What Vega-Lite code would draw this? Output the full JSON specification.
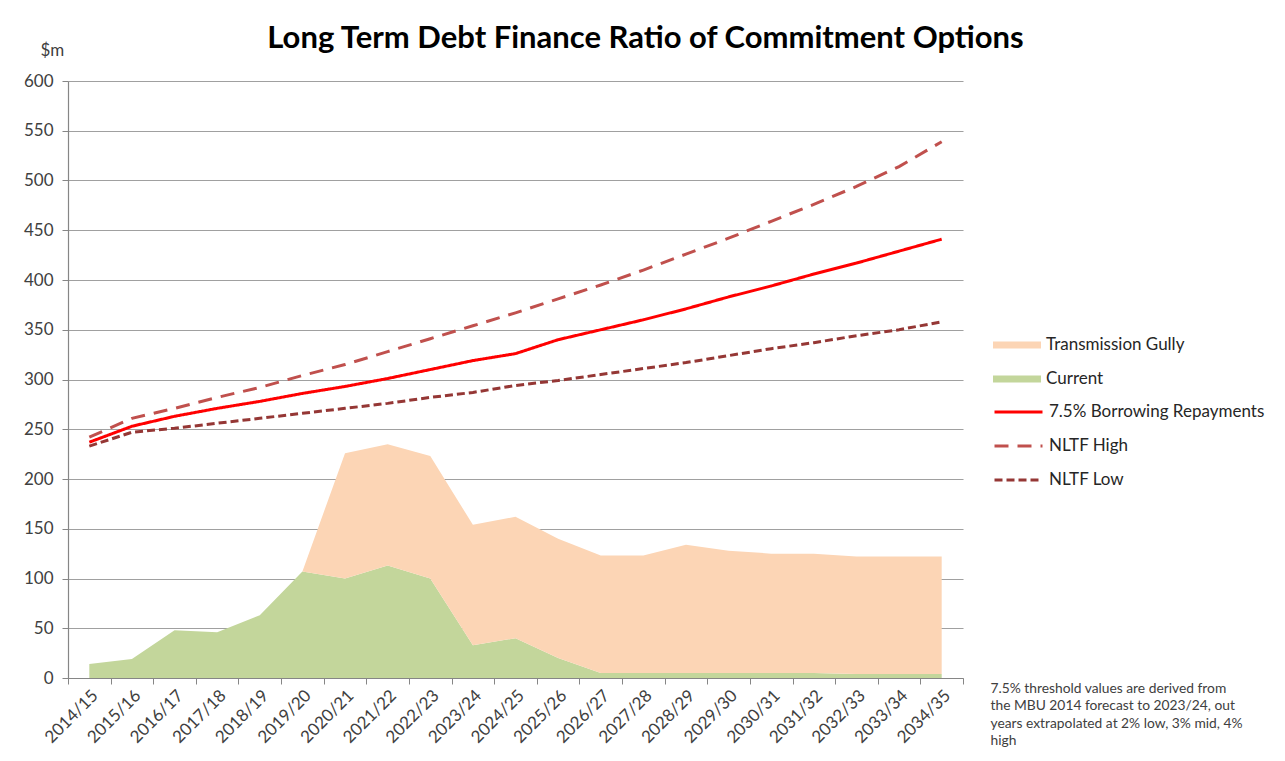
{
  "$schema": "https://vega.github.io/schema/vega-lite/v6.json",
  "width": 895,
  "height": 597,
  "autosize": {"type": "none"},
  "padding": {"left": 68, "top": 81, "right": 322, "bottom": 83},
  "background": "white",
  "title": {
    "text": "Long Term Debt Finance Ratio of Commitment Options",
    "font": "Lato",
    "fontSize": 31,
    "fontWeight": "bold",
    "color": "#000000",
    "anchor": "middle",
    "frame": "group",
    "dx": 130,
    "dy": 43,
    "offset": 29
  },
  "config": {
    "view": {"stroke": null},
    "font": "Lato",
    "axis": {"labelFont": "Lato", "titleFont": "Lato"},
    "legend": {"labelFont": "Lato"}
  },
  "data": {
    "values": [
      {"year": "2014/15", "series": "Current", "value": 14},
      {"year": "2015/16", "series": "Current", "value": 19},
      {"year": "2016/17", "series": "Current", "value": 48},
      {"year": "2017/18", "series": "Current", "value": 46},
      {"year": "2018/19", "series": "Current", "value": 63},
      {"year": "2019/20", "series": "Current", "value": 107},
      {"year": "2020/21", "series": "Current", "value": 100},
      {"year": "2021/22", "series": "Current", "value": 113},
      {"year": "2022/23", "series": "Current", "value": 100},
      {"year": "2023/24", "series": "Current", "value": 33},
      {"year": "2024/25", "series": "Current", "value": 40},
      {"year": "2025/26", "series": "Current", "value": 20},
      {"year": "2026/27", "series": "Current", "value": 5},
      {"year": "2027/28", "series": "Current", "value": 5},
      {"year": "2028/29", "series": "Current", "value": 5},
      {"year": "2029/30", "series": "Current", "value": 5},
      {"year": "2030/31", "series": "Current", "value": 5},
      {"year": "2031/32", "series": "Current", "value": 5},
      {"year": "2032/33", "series": "Current", "value": 4},
      {"year": "2033/34", "series": "Current", "value": 4},
      {"year": "2034/35", "series": "Current", "value": 4},
      {"year": "2019/20", "series": "Transmission Gully", "value": 0},
      {"year": "2020/21", "series": "Transmission Gully", "value": 126},
      {"year": "2021/22", "series": "Transmission Gully", "value": 122},
      {"year": "2022/23", "series": "Transmission Gully", "value": 123},
      {"year": "2023/24", "series": "Transmission Gully", "value": 121},
      {"year": "2024/25", "series": "Transmission Gully", "value": 122},
      {"year": "2025/26", "series": "Transmission Gully", "value": 120},
      {"year": "2026/27", "series": "Transmission Gully", "value": 118},
      {"year": "2027/28", "series": "Transmission Gully", "value": 118},
      {"year": "2028/29", "series": "Transmission Gully", "value": 129},
      {"year": "2029/30", "series": "Transmission Gully", "value": 123},
      {"year": "2030/31", "series": "Transmission Gully", "value": 120},
      {"year": "2031/32", "series": "Transmission Gully", "value": 120},
      {"year": "2032/33", "series": "Transmission Gully", "value": 118},
      {"year": "2033/34", "series": "Transmission Gully", "value": 118},
      {"year": "2034/35", "series": "Transmission Gully", "value": 118},
      {"year": "2014/15", "series": "7.5% Borrowing Repayments", "value": 237},
      {"year": "2015/16", "series": "7.5% Borrowing Repayments", "value": 253},
      {"year": "2016/17", "series": "7.5% Borrowing Repayments", "value": 263},
      {"year": "2017/18", "series": "7.5% Borrowing Repayments", "value": 271},
      {"year": "2018/19", "series": "7.5% Borrowing Repayments", "value": 278},
      {"year": "2019/20", "series": "7.5% Borrowing Repayments", "value": 286},
      {"year": "2020/21", "series": "7.5% Borrowing Repayments", "value": 293},
      {"year": "2021/22", "series": "7.5% Borrowing Repayments", "value": 301},
      {"year": "2022/23", "series": "7.5% Borrowing Repayments", "value": 310},
      {"year": "2023/24", "series": "7.5% Borrowing Repayments", "value": 319},
      {"year": "2024/25", "series": "7.5% Borrowing Repayments", "value": 326},
      {"year": "2025/26", "series": "7.5% Borrowing Repayments", "value": 340},
      {"year": "2026/27", "series": "7.5% Borrowing Repayments", "value": 350},
      {"year": "2027/28", "series": "7.5% Borrowing Repayments", "value": 360},
      {"year": "2028/29", "series": "7.5% Borrowing Repayments", "value": 371},
      {"year": "2029/30", "series": "7.5% Borrowing Repayments", "value": 383},
      {"year": "2030/31", "series": "7.5% Borrowing Repayments", "value": 394},
      {"year": "2031/32", "series": "7.5% Borrowing Repayments", "value": 406},
      {"year": "2032/33", "series": "7.5% Borrowing Repayments", "value": 417},
      {"year": "2033/34", "series": "7.5% Borrowing Repayments", "value": 429},
      {"year": "2034/35", "series": "7.5% Borrowing Repayments", "value": 441},
      {"year": "2014/15", "series": "NLTF High", "value": 242},
      {"year": "2015/16", "series": "NLTF High", "value": 261},
      {"year": "2016/17", "series": "NLTF High", "value": 271},
      {"year": "2017/18", "series": "NLTF High", "value": 282},
      {"year": "2018/19", "series": "NLTF High", "value": 292},
      {"year": "2019/20", "series": "NLTF High", "value": 304},
      {"year": "2020/21", "series": "NLTF High", "value": 315},
      {"year": "2021/22", "series": "NLTF High", "value": 328},
      {"year": "2022/23", "series": "NLTF High", "value": 341},
      {"year": "2023/24", "series": "NLTF High", "value": 354},
      {"year": "2024/25", "series": "NLTF High", "value": 367},
      {"year": "2025/26", "series": "NLTF High", "value": 381},
      {"year": "2026/27", "series": "NLTF High", "value": 395},
      {"year": "2027/28", "series": "NLTF High", "value": 410},
      {"year": "2028/29", "series": "NLTF High", "value": 426},
      {"year": "2029/30", "series": "NLTF High", "value": 442},
      {"year": "2030/31", "series": "NLTF High", "value": 459},
      {"year": "2031/32", "series": "NLTF High", "value": 476},
      {"year": "2032/33", "series": "NLTF High", "value": 494},
      {"year": "2033/34", "series": "NLTF High", "value": 514},
      {"year": "2034/35", "series": "NLTF High", "value": 539},
      {"year": "2014/15", "series": "NLTF Low", "value": 233},
      {"year": "2015/16", "series": "NLTF Low", "value": 247},
      {"year": "2016/17", "series": "NLTF Low", "value": 251},
      {"year": "2017/18", "series": "NLTF Low", "value": 256},
      {"year": "2018/19", "series": "NLTF Low", "value": 261},
      {"year": "2019/20", "series": "NLTF Low", "value": 266},
      {"year": "2020/21", "series": "NLTF Low", "value": 271},
      {"year": "2021/22", "series": "NLTF Low", "value": 276},
      {"year": "2022/23", "series": "NLTF Low", "value": 282},
      {"year": "2023/24", "series": "NLTF Low", "value": 287},
      {"year": "2024/25", "series": "NLTF Low", "value": 294},
      {"year": "2025/26", "series": "NLTF Low", "value": 299},
      {"year": "2026/27", "series": "NLTF Low", "value": 305},
      {"year": "2027/28", "series": "NLTF Low", "value": 311},
      {"year": "2028/29", "series": "NLTF Low", "value": 317},
      {"year": "2029/30", "series": "NLTF Low", "value": 324},
      {"year": "2030/31", "series": "NLTF Low", "value": 331},
      {"year": "2031/32", "series": "NLTF Low", "value": 337},
      {"year": "2032/33", "series": "NLTF Low", "value": 344},
      {"year": "2033/34", "series": "NLTF Low", "value": 350},
      {"year": "2034/35", "series": "NLTF Low", "value": 358}
    ]
  },
  "layer": [
    {
      "transform": [{"filter": {"field": "series", "oneOf": ["Current", "Transmission Gully"]}}],
      "mark": {"type": "area", "opacity": 1},
      "encoding": {
        "x": {
          "field": "year",
          "type": "ordinal",
          "scale": {"paddingInner": 0, "paddingOuter": 0},
          "axis": {
            "title": ["7.5% threshold values are derived from", "the MBU 2014  forecast to 2023/24, out", "years extrapolated at 2% low, 3% mid, 4%", "high"],
            "titleX": 922,
            "titleY": 3,
            "titleAlign": "left",
            "titleAngle": 0,
            "titleBaseline": "top",
            "titleFontSize": 13.8,
            "titleFontWeight": "normal",
            "titleLineHeight": 17.5,
            "titleColor": "#404040",
            "labelAngle": -45,
            "labelFontSize": 17,
            "labelColor": "#404040",
            "labelPadding": 3,
            "tickBand": "extent",
            "tickSize": 6,
            "tickColor": "#868686",
            "domainColor": "#868686",
            "domainWidth": 1.2,
            "grid": false
          }
        },
        "y": {
          "field": "value",
          "type": "quantitative",
          "stack": "zero",
          "scale": {"domain": [0, 600], "nice": false},
          "axis": {
            "title": "$m",
            "titleAngle": 0,
            "titleX": -28,
            "titleY": -31,
            "titleAlign": "left",
            "titleBaseline": "middle",
            "titleFontSize": 17,
            "titleFontWeight": "normal",
            "titleColor": "#404040",
            "values": [0, 50, 100, 150, 200, 250, 300, 350, 400, 450, 500, 550, 600],
            "labelFontSize": 17,
            "labelColor": "#404040",
            "labelPadding": 9,
            "tickSize": 6,
            "tickColor": "#868686",
            "domainColor": "#868686",
            "domainWidth": 1.2,
            "grid": true,
            "gridColor": "#A0A0A0",
            "gridWidth": 1.2
          }
        },
        "order": {"field": "series", "type": "nominal", "sort": "ascending"},
        "color": {
          "field": "series",
          "type": "nominal",
          "scale": {"domain": ["Transmission Gully", "Current"], "range": ["#FCD5B5", "#C3D69B"]},
          "legend": {
            "title": null,
            "orient": "none",
            "legendX": 925,
            "legendY": 254,
            "padding": 0,
            "symbolType": "M-1,-0.15L1,-0.15L1,0.15L-1,0.15Z",
            "symbolSize": 2304,
            "symbolStrokeWidth": 0,
            "symbolOpacity": 1,
            "clipHeight": 20,
            "rowPadding": 14,
            "labelFontSize": 17,
            "labelLimit": 300,
            "labelColor": "#262626",
            "labelOffset": 5
          }
        }
      }
    },
    {
      "transform": [{"filter": {"field": "series", "oneOf": ["7.5% Borrowing Repayments", "NLTF High", "NLTF Low"]}}],
      "mark": {"type": "line", "strokeWidth": 3},
      "encoding": {
        "x": {"field": "year", "type": "ordinal"},
        "y": {"field": "value", "type": "quantitative"},
        "color": {
          "field": "series",
          "type": "nominal",
          "scale": {"domain": ["7.5% Borrowing Repayments", "NLTF High", "NLTF Low"], "range": ["#FF0000", "#C0504D", "#953735"]},
          "legend": {
            "title": null,
            "orient": "none",
            "legendX": 925,
            "legendY": 321,
            "padding": 0,
            "symbolType": "stroke",
            "symbolSize": 2304,
            "symbolStrokeWidth": 3,
            "clipHeight": 20,
            "rowPadding": 14,
            "labelFontSize": 17,
            "labelLimit": 300,
            "labelColor": "#262626",
            "labelOffset": 5
          }
        },
        "strokeDash": {
          "field": "series",
          "type": "nominal",
          "scale": {"domain": ["7.5% Borrowing Repayments", "NLTF High", "NLTF Low"], "range": [[1, 0], [14, 9], [8, 4]]},
          "legend": {
            "title": null,
            "orient": "none",
            "legendX": 925,
            "legendY": 321,
            "padding": 0,
            "symbolType": "stroke",
            "symbolSize": 2304,
            "symbolStrokeWidth": 3,
            "clipHeight": 20,
            "rowPadding": 14,
            "labelFontSize": 17,
            "labelLimit": 300,
            "labelColor": "#262626",
            "labelOffset": 5
          }
        }
      }
    }
  ],
  "resolve": {"scale": {"color": "independent", "strokeDash": "independent"}}
}
